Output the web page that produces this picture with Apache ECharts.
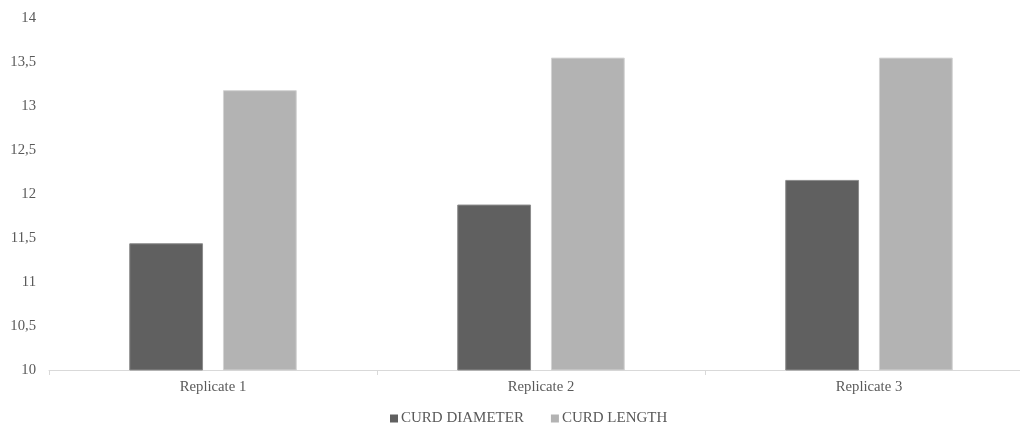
<!DOCTYPE html>
<html><head><meta charset="utf-8">
<script src="https://cdn.jsdelivr.net/npm/echarts@6/dist/echarts.min.js"></script>
<style>html,body{margin:0;padding:0;background:#fff}#c{width:1020px;height:423px}</style>
</head><body><div id="c"></div>
<script>
const categories = ['Replicate 1', 'Replicate 2', 'Replicate 3'];
const curdDiameter = [11.44, 11.88, 12.16];
const curdLength = [13.18, 13.55, 13.55];
const yTicks = {min: 10, max: 14, interval: 0.5};

const chart = echarts.init(document.getElementById('c'));
const font = 'Liberation Serif, Times New Roman, serif';
chart.setOption({
  animation: false,
  textStyle: {fontFamily: font},
  grid: {left: 49, width: 984, top: 18, height: 352, containLabel: false, outerBoundsMode: 'none'},
  legend: {
    top: 411, left: 390, padding: 0, itemWidth: 8, itemHeight: 8, itemGap: 27,
    icon: 'rect',
    itemStyle: {borderWidth: 0},
    textStyle: {fontFamily: font, fontSize: 15, color: '#595959', padding: [0,0,0,-2]},
    data: ['CURD DIAMETER', 'CURD LENGTH']
  },
  xAxis: {
    type: 'category', data: categories,
    axisLine: {lineStyle: {color: '#d9d9d9'}},
    axisTick: {show: true, alignWithLabel: false, length: 5, lineStyle: {color: '#d9d9d9'}},
    axisLabel: {fontFamily: font, fontSize: 14.7, color: '#595959', margin: 10}
  },
  yAxis: {
    type: 'value', min: yTicks.min, max: yTicks.max, interval: yTicks.interval,
    splitLine: {show: false},
    axisLine: {show: false}, axisTick: {show: false},
    axisLabel: {fontFamily: font, fontSize: 14.7, color: '#595959', margin: 13,
      formatter: v => String(v).replace('.', ',')}
  },
  series: [
    {name: 'CURD DIAMETER', type: 'bar', data: curdDiameter, barWidth: '22.5%', barGap: '27%',
     itemStyle: {color: '#606060', borderColor: '#8c8c8c', borderWidth: 1}},
    {name: 'CURD LENGTH', type: 'bar', data: curdLength, barWidth: '22.5%',
     itemStyle: {color: '#b3b3b3', borderColor: '#d4d4d4', borderWidth: 1}}
  ]
});
</script></body></html>
